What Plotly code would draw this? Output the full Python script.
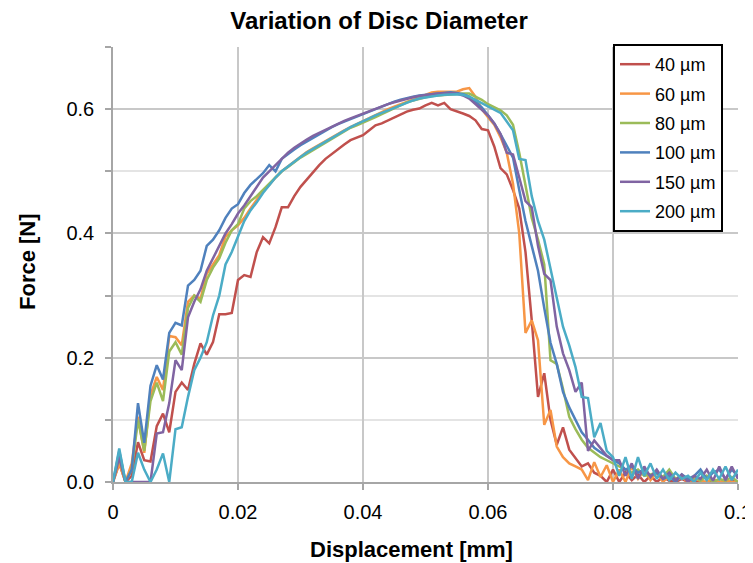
import plotly.graph_objects as go

displacement_mm = [
    0.000, 0.001, 0.002, 0.003, 0.004, 0.005, 0.006, 0.007, 0.008, 0.009,
    0.010, 0.011, 0.012, 0.013, 0.014, 0.015, 0.016, 0.017, 0.018, 0.019,
    0.020, 0.021, 0.022, 0.023, 0.024, 0.025, 0.026, 0.027, 0.028, 0.029,
    0.030, 0.031, 0.032, 0.033, 0.034, 0.035, 0.036, 0.037, 0.038, 0.039,
    0.040, 0.041, 0.042, 0.043, 0.044, 0.045, 0.046, 0.047, 0.048, 0.049,
    0.050, 0.051, 0.052, 0.053, 0.054, 0.055, 0.056, 0.057, 0.058, 0.059,
    0.060, 0.061, 0.062, 0.063, 0.064, 0.065, 0.066, 0.067, 0.068, 0.069,
    0.070, 0.071, 0.072, 0.073, 0.074, 0.075, 0.076, 0.077, 0.078, 0.079,
    0.080, 0.081, 0.082, 0.083, 0.084, 0.085, 0.086, 0.087, 0.088, 0.089,
    0.090, 0.091, 0.092, 0.093, 0.094, 0.095, 0.096, 0.097, 0.098, 0.099, 0.100,
]

force_40um = [
    0, 0.03, 0, 0.01, 0.064, 0.035, 0.033, 0.09, 0.11, 0.08,
    0.145, 0.16, 0.148, 0.19, 0.223, 0.205, 0.225, 0.27, 0.27, 0.272,
    0.325, 0.333, 0.33, 0.37, 0.394, 0.384, 0.41, 0.442, 0.442, 0.46,
    0.475, 0.487, 0.498, 0.51, 0.52, 0.528, 0.536, 0.543, 0.55, 0.554,
    0.558, 0.566, 0.574, 0.577, 0.582, 0.587, 0.592, 0.596, 0.599, 0.601,
    0.606, 0.61, 0.606, 0.61, 0.6, 0.597, 0.593, 0.589, 0.582, 0.568,
    0.566, 0.54, 0.505, 0.495, 0.47, 0.44, 0.37, 0.26, 0.137, 0.175,
    0.1, 0.06, 0.088, 0.052, 0.038, 0.025, 0.03, 0.015, 0.01, 0.0,
    0.02, 0.0, 0.015, 0.003, 0.012, 0.0, 0.01, 0.0, 0.008, 0.002,
    0.0, 0.005, 0.0, 0.003, 0.0, 0.0, 0.002, 0.0, 0.0, 0.002, 0.0,
]

force_60um = [
    0, 0.03, 0, 0.03, 0.105, 0.047, 0.14, 0.169, 0.148, 0.235,
    0.233, 0.22, 0.29, 0.30, 0.295, 0.335, 0.35, 0.365, 0.395, 0.405,
    0.413, 0.425, 0.44, 0.455, 0.468, 0.478, 0.49, 0.50, 0.508, 0.516,
    0.524, 0.531, 0.537, 0.543, 0.549, 0.555, 0.56, 0.566, 0.571, 0.576,
    0.58, 0.585, 0.59, 0.595, 0.6, 0.604, 0.608, 0.612, 0.615, 0.62,
    0.624, 0.627, 0.628, 0.628, 0.629, 0.628, 0.632, 0.634, 0.62, 0.6,
    0.587, 0.575, 0.555, 0.53, 0.48, 0.4, 0.24, 0.26, 0.228, 0.092,
    0.116, 0.057, 0.04, 0.03, 0.025, 0.02, 0.003, 0.032, 0.008, 0.027,
    0.0, 0.02, 0.0, 0.025, 0.005, 0.02, 0.003, 0.015, 0.0, 0.01,
    0.002, 0.008, 0.0, 0.005, 0.002, 0.0, 0.005, 0.0, 0.003, 0.0, 0.0,
]

force_80um = [
    0, 0.04, 0, 0.02, 0.1, 0.05, 0.13, 0.16, 0.13, 0.21,
    0.225, 0.205, 0.28, 0.30, 0.29, 0.325, 0.345, 0.36, 0.385, 0.405,
    0.415, 0.44, 0.452, 0.46, 0.47, 0.48, 0.49, 0.50, 0.507, 0.515,
    0.522, 0.528, 0.534, 0.54, 0.547, 0.553, 0.558, 0.565, 0.57, 0.574,
    0.578, 0.582, 0.587, 0.592, 0.597, 0.602, 0.607, 0.611, 0.614, 0.617,
    0.619, 0.621, 0.622, 0.623, 0.624, 0.625, 0.625, 0.625, 0.62, 0.615,
    0.608, 0.603, 0.598, 0.59, 0.575, 0.53, 0.48, 0.425, 0.39, 0.35,
    0.196, 0.19, 0.15, 0.105, 0.085, 0.068, 0.055, 0.048, 0.04, 0.035,
    0.03, 0.025, 0.02, 0.015, 0.02, 0.01, 0.012, 0.015, 0.008, 0.02,
    0.005, 0.01, 0.003, 0.008, 0.002, 0.01, 0.0, 0.005, 0.002, 0.008, 0.0,
]

force_100um = [
    0, 0.05, 0, 0.02, 0.127, 0.063, 0.155, 0.188, 0.165, 0.24,
    0.256, 0.252, 0.316, 0.325, 0.34, 0.38, 0.39, 0.405, 0.425, 0.44,
    0.447, 0.465, 0.478, 0.488, 0.497, 0.51, 0.5, 0.52, 0.528, 0.535,
    0.542, 0.548, 0.554, 0.56, 0.566, 0.571, 0.576, 0.58, 0.584, 0.588,
    0.592, 0.596, 0.6, 0.605, 0.608, 0.612, 0.615, 0.618, 0.62, 0.622,
    0.623, 0.625, 0.626, 0.626, 0.627, 0.626, 0.624, 0.62, 0.612, 0.603,
    0.59, 0.577, 0.56, 0.54, 0.522, 0.47, 0.42, 0.38, 0.34, 0.28,
    0.224, 0.19, 0.145, 0.12, 0.1, 0.08, 0.068, 0.055, 0.048, 0.042,
    0.035, 0.03, 0.02, 0.025, 0.015, 0.02, 0.01, 0.015, 0.005, 0.01,
    0.0, 0.012, 0.005, 0.01, 0.02, 0.005, 0.015, 0.02, 0.005, 0.02, 0.01,
]

force_150um = [
    0, 0.04, 0, 0, 0, 0, 0, 0.078, 0.08, 0.127,
    0.196, 0.18, 0.265, 0.29, 0.31, 0.34, 0.36, 0.38, 0.40, 0.415,
    0.432, 0.445, 0.46, 0.475, 0.49, 0.50, 0.51, 0.52, 0.53, 0.538,
    0.545, 0.551, 0.557, 0.562, 0.567, 0.572, 0.577, 0.581, 0.585, 0.589,
    0.593, 0.597, 0.601, 0.605, 0.608, 0.611, 0.614, 0.617, 0.619, 0.621,
    0.623, 0.624, 0.625, 0.626, 0.626, 0.625, 0.622, 0.617, 0.608, 0.598,
    0.59, 0.577, 0.56, 0.53, 0.527, 0.49, 0.452, 0.442, 0.38, 0.335,
    0.325, 0.25, 0.207, 0.18, 0.145, 0.16, 0.05, 0.067, 0.055, 0.042,
    0.035, 0.035, 0.01, 0.03, 0.005, 0.025, 0.008, 0.02, 0.005, 0.015,
    0.003, 0.012, 0.0, 0.01, 0.005, 0.02, 0.002, 0.025, 0.003, 0.025, 0.005,
]

force_200um = [
    0, 0.054, 0, 0, 0.047, 0.02, 0, 0.02, 0.046, 0,
    0.085, 0.088, 0.137, 0.18, 0.2, 0.225, 0.268, 0.3, 0.35, 0.37,
    0.395, 0.42, 0.437, 0.45, 0.465, 0.478, 0.49, 0.5, 0.508, 0.516,
    0.523, 0.53, 0.536, 0.542, 0.548, 0.554, 0.56, 0.566, 0.571, 0.576,
    0.58, 0.585, 0.59, 0.594, 0.599, 0.603, 0.607, 0.611, 0.614, 0.617,
    0.619, 0.621, 0.622, 0.623, 0.624, 0.624, 0.623, 0.62, 0.615, 0.61,
    0.605, 0.6, 0.594, 0.58, 0.566, 0.52, 0.518, 0.46, 0.42, 0.39,
    0.345, 0.3, 0.25, 0.22, 0.185, 0.137, 0.135, 0.072, 0.095, 0.05,
    0.04, 0.01, 0.04, 0.005, 0.04, 0.01, 0.03, 0.005, 0.02, 0.003,
    0.015, 0.005, 0.01, 0.0, 0.015, 0.003, 0.02, 0.005, 0.025, 0.003, 0.02,
]

series_names = ["40 µm", "60 µm", "80 µm", "100 µm", "150 µm", "200 µm"]
series_values = [force_40um, force_60um, force_80um, force_100um, force_150um, force_200um]
series_colors = ["#C0504D", "#F79646", "#9BBB59", "#4F81BD", "#8064A2", "#4BACC6"]

x_tick_vals = [0, 0.02, 0.04, 0.06, 0.08, 0.1]
x_tick_text = ["0", "0.02", "0.04", "0.06", "0.08", "0.1"]
y_tick_vals = [0.0, 0.2, 0.4, 0.6]
y_tick_text = ["0.0", "0.2", "0.4", "0.6"]

FONT = "Liberation Sans, Arial, sans-serif"

# The page body has an 8 px margin, so the figure is sized to fit inside the
# window and all positions are measured from the figure's own origin.
W, H = 745, 555
PL, PR, PT, PB = 105, 730, 39, 474

fig = go.Figure()
for name, vals, col in zip(series_names, series_values, series_colors):
    fig.add_trace(go.Scatter(
        x=displacement_mm, y=vals, mode="lines", name=name,
        legendgroup=name,
        line=dict(color=col, width=2.5),
    ))

pw, ph = PR - PL, PB - PT

fig.update_layout(
    width=W, height=H,
    margin=dict(l=PL, r=W - PR, t=PT, b=H - PB, autoexpand=False),
    paper_bgcolor="white", plot_bgcolor="white",
    font=dict(family=FONT, color="black"),
    title=dict(text="<b>Variation of Disc Diameter</b>", x=(379 - 8) / W, xref="container",
               xanchor="center", y=1.0, yref="container", yanchor="top",
               pad=dict(t=4, b=0, l=0, r=0),
               font=dict(size=24, family=FONT, color="black")),
    showlegend=True,
    legend=dict(x=(605 - PL) / pw, xanchor="left", y=(PB - 36) / ph, yanchor="top",
                bordercolor="black", borderwidth=2, bgcolor="white",
                font=dict(size=18, family=FONT, color="black"),
                tracegroupgap=3, itemwidth=30),
    xaxis=dict(range=[0, 0.1], tickvals=x_tick_vals, ticktext=x_tick_text,
               showgrid=True, gridcolor="#C8C8C8", gridwidth=1.5,
               showline=True, linecolor="#A6A6A6", linewidth=1.5,
               ticks="outside", ticklen=6, tickcolor="#A6A6A6", tickwidth=1.5,
               ticklabelstandoff=5,
               tickfont=dict(size=20, family=FONT, color="black"),
               zeroline=False),
    yaxis=dict(range=[0, 0.7], tickvals=y_tick_vals, ticktext=y_tick_text,
               showgrid=True, gridcolor="#C8C8C8", gridwidth=1.5,
               showline=True, linecolor="#A6A6A6", linewidth=1.5,
               ticks="outside", ticklen=6, tickcolor="#A6A6A6", tickwidth=1.5,
               ticklabelstandoff=7,
               tickfont=dict(size=20, family=FONT, color="black"),
               minor=dict(tickvals=[0.1, 0.3, 0.5, 0.7], showgrid=True,
                          gridcolor="#E4E4E4", gridwidth=1.5,
                          ticks="outside", ticklen=6, tickcolor="#A6A6A6"),
               zeroline=False),
    annotations=[
        dict(text="<b>Displacement [mm]</b>", xref="paper", yref="paper",
             x=(411 - 8 - PL) / pw, y=(PB - (549 - 8)) / ph, xanchor="center", yanchor="middle",
             showarrow=False, font=dict(size=22, family=FONT, color="black")),
        dict(text="<b>Force [N]</b>", xref="paper", yref="paper",
             x=(28 - 8 - PL) / pw, y=(PB - (262 - 8)) / ph, xanchor="center", yanchor="middle",
             textangle=-90, showarrow=False, font=dict(size=22, family=FONT, color="black")),
    ],
)

fig.write_html("out.html")
